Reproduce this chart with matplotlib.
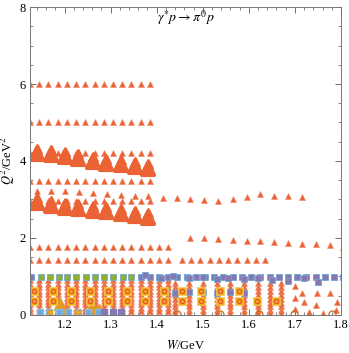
import numpy as np
import matplotlib
matplotlib.use("Agg")
import matplotlib.pyplot as plt
from matplotlib.ticker import MultipleLocator
from matplotlib.markers import MarkerStyle

plt.rcParams['font.family'] = ['Liberation Serif', 'DejaVu Serif']
plt.rcParams['mathtext.fontset'] = 'stix'

# ---- data ----
# fine W grid of the low-W block (step ~0.02)
W_fine = [1.125, 1.145, 1.165, 1.185, 1.205, 1.225, 1.245, 1.265, 1.285, 1.305,
          1.325, 1.345, 1.365, 1.385]
W_fine_ext = W_fine + [1.405, 1.425]
W_fine_long = W_fine + [1.405, 1.425, 1.455, 1.475, 1.495, 1.515, 1.535, 1.555,
                        1.575, 1.595, 1.615, 1.635]
Q_rows_fine = [6.0, 5.0, 4.2, 3.47, 2.97]

# row around Q^2 ~ 3.2 (step ~0.03)
W_row32 = [1.141, 1.171, 1.200, 1.231, 1.262, 1.292, 1.322, 1.353, 1.382, 1.413,
           1.443, 1.473, 1.503, 1.534, 1.565, 1.595, 1.625, 1.655, 1.685, 1.716]
Q_row32 = [3.23, 3.22, 3.21, 3.20, 3.16, 3.13, 3.12, 3.10, 3.08, 3.04,
           3.03, 3.00, 2.99, 2.97, 3.01, 3.07, 3.13, 3.10, 3.09, 3.06]

# row around Q^2 ~ 2 at high W
W_row20 = [1.473, 1.503, 1.534, 1.565, 1.595, 1.625, 1.655, 1.685, 1.716, 1.746,
           1.776, 1.805]
Q_row20 = [2.01, 1.99, 1.97, 1.95, 1.93, 1.91, 1.90, 1.88, 1.85, 1.83, 1.82, 1.76]

# big blobs
W_blob = [1.141, 1.171, 1.200, 1.229, 1.262, 1.291, 1.323, 1.353, 1.382]
Q_blob1 = [4.18, 4.16, 4.10, 4.05, 3.98, 3.92, 3.90, 3.85, 3.78]
Q_blob2 = [2.90, 2.84, 2.79, 2.75, 2.71, 2.67, 2.62, 2.58, 2.53]

# dense low-Q region
Q_dense = [0.90, 0.81, 0.72, 0.63, 0.54, 0.45, 0.36, 0.27, 0.18, 0.09]
W_dense_right = [1.44, 1.47, 1.50, 1.53, 1.56, 1.59, 1.62, 1.645, 1.67]
Q_dense_right = [0.82, 0.72, 0.62, 0.52, 0.42, 0.32, 0.22, 0.12, 0.04]
W_sparse = [1.70, 1.70, 1.70, 1.716, 1.747, 1.776, 1.792, 1.72, 1.73, 1.76, 1.79, 1.745]
Q_sparse = [0.75, 0.45, 0.15, 0.56, 0.58, 0.56, 0.33, 0.34, 0.08, 0.05, 0.12, 0.25]

# squares at Q^2 ~ 1
W_sq1 = [1.128, 1.148, 1.168, 1.187, 1.206, 1.225, 1.247, 1.266, 1.286, 1.305,
         1.326, 1.345, 1.365, 1.385, 1.405, 1.425, 1.445, 1.465, 1.485, 1.505,
         1.525, 1.545, 1.565, 1.585, 1.605, 1.625, 1.645, 1.665, 1.685, 1.705,
         1.725, 1.745, 1.765, 1.785, 1.805]
Q_sq1 = [0.99] * len(W_sq1)
W_green = [1.148, 1.168, 1.187, 1.206, 1.225, 1.247, 1.266, 1.286, 1.305, 1.326, 1.345]
W_purp1 = [1.375, 1.41, 1.435, 1.47, 1.50, 1.53, 1.555, 1.59, 1.62, 1.65, 1.685,
           1.72, 1.75]
Q_purp1 = [1.03, 0.96, 1.00, 0.95, 0.98, 0.94, 0.97, 0.92, 0.96, 0.90, 0.88,
           0.95, 0.86]

# yellow squares
W_yel_hi = [1.133, 1.175, 1.215, 1.255, 1.295, 1.335, 1.375, 1.415, 1.455, 1.497,
            1.538, 1.579]
W_yel_lo = W_yel_hi + [1.618, 1.659]
Q_yel_hi = 0.62
Q_yel_lo = 0.36

# blue/purple squares at Q^2 ~ 0.6
W_bp6 = [1.42, 1.44, 1.47, 1.50, 1.53, 1.56, 1.59]
Q_bp6 = [0.62, 0.58, 0.60, 0.59, 0.57, 0.60, 0.56]

# bottom markers
W_bot_blue = [1.146, 1.166, 1.187, 1.208, 1.229, 1.251, 1.273]
W_bot_purp = [1.285, 1.305, 1.322]
W_bot_big = [1.19, 1.19, 1.26, 1.275]
Q_bot_big = [0.28, 0.15, 0.22, 0.12]
W_ring = [1.444, 1.538, 1.621, 1.697, 1.781]

tri_c = '#EB6235'
tri_e = '#F08A68'

fig = plt.figure(figsize=(3.49, 3.53), dpi=100)
ax = fig.add_axes([0.086, 0.108, 0.891, 0.872])

kw = dict(ls='none', marker='^', ms=5, mfc=tri_c, mec=tri_e, mew=0.4)
for q in Q_rows_fine:
    ax.plot(W_fine, [q] * len(W_fine), **kw)
ax.plot(W_fine_ext, [1.77] * len(W_fine_ext), **kw)
ax.plot(W_fine_long, [1.42] * len(W_fine_long), **kw)
ax.plot(W_row32, Q_row32, **kw)
ax.plot(W_row20, Q_row20, **kw)
for q in Q_dense:
    ax.plot(W_fine_ext, [q] * len(W_fine_ext), **kw)
for q in Q_dense_right:
    ax.plot(W_dense_right, [q] * len(W_dense_right), **kw)
ax.plot(W_sparse, Q_sparse, **kw)

# big blobs (rounded triangles, two stacked)
blob_m = MarkerStyle('^', joinstyle='round')
bkw = dict(ls='none', marker=blob_m, ms=8.5, mfc=tri_c, mec=tri_c, mew=3)
ax.plot(W_blob, Q_blob1, **bkw)
ax.plot(W_blob, Q_blob2, **bkw)
tkw = dict(ls='none', marker=blob_m, ms=6, mfc=tri_c, mec=tri_c, mew=2)
ax.plot(W_blob, [q + 0.13 for q in Q_blob1], **tkw)
ax.plot(W_blob, [q + 0.13 for q in Q_blob2], **tkw)

# bottom big orange
ax.plot(W_bot_big, Q_bot_big, ls='none', marker='^', ms=8, color='#E19C24')

# squares at Q ~ 1
skw = dict(ls='none', marker='s', ms=5, mfc='#8DBBE0', mec='#6FA8D6', mew=0.6)
ikw = dict(ls='none', marker='s', ms=3.2, color='#8778B3')
ax.plot(W_sq1, Q_sq1, **skw)
ax.plot(W_green, [0.99] * len(W_green), ls='none', marker='s', ms=3.2,
        color='#8FB032')
ax.plot(W_sq1[12:], Q_sq1[12:], **ikw)
ax.plot(W_sq1[:1], Q_sq1[:1], **ikw)
ax.plot(W_purp1, Q_purp1, **skw)
ax.plot(W_purp1, Q_purp1, **ikw)

# blue/purple at 0.6
ax.plot(W_bp6, Q_bp6, **skw)
ax.plot(W_bp6, Q_bp6, **ikw)

# yellow squares
ykw = dict(ls='none', marker='s', ms=6, mfc='#F2B21C', mec='#F7C95A', mew=0.5)
rkw = dict(ls='none', marker='o', ms=3, mfc='none', mec='#E8542A', mew=0.9)
ax.plot(W_yel_hi, [Q_yel_hi] * len(W_yel_hi), **ykw)
ax.plot(W_yel_hi, [Q_yel_hi] * len(W_yel_hi), **rkw)
ax.plot(W_yel_lo, [Q_yel_lo] * len(W_yel_lo), **ykw)
ax.plot(W_yel_lo, [Q_yel_lo] * len(W_yel_lo), **rkw)

# bottom squares
ax.plot(W_bot_blue, [0.07] * len(W_bot_blue), ls='none', marker='s', ms=5,
        mfc='#6FA8D6', mec='#8DBBE0')
ax.plot(W_bot_purp, [0.07] * len(W_bot_purp), ls='none', marker='s', ms=4,
        color='#8778B3')
ax.plot([1.168, 1.229], [0.07, 0.07], ls='none', marker='o', ms=3, mfc='#F2B21C',
        mec='#E19C24')
ax.plot(W_ring, [0.03] * len(W_ring), ls='none', marker='o', ms=5, mfc='none',
        mec='#C56E1A', mew=0.9)

ax.set_xlim(1.125, 1.8)
ax.set_ylim(0, 8)
ax.xaxis.set_major_locator(MultipleLocator(0.1))
ax.xaxis.set_minor_locator(MultipleLocator(0.02))
ax.yaxis.set_major_locator(MultipleLocator(2))
ax.yaxis.set_minor_locator(MultipleLocator(0.5))
ax.tick_params(which='both', direction='in', top=True, right=True,
               labelsize=9, color='#555555', pad=3)
ax.tick_params(which='major', length=4, width=0.6)
ax.tick_params(which='minor', length=2, width=0.5)
for s in ax.spines.values():
    s.set_color('#777777')
    s.set_linewidth(0.7)

ax.set_xlabel('$W$/GeV', fontsize=9, labelpad=6)
ax.set_ylabel('$Q^2$/GeV$^2$', fontsize=9, labelpad=2)
ax.text(0.5, 0.965, r'$\gamma^{*}p \rightarrow \pi^{0}p$', transform=ax.transAxes,
        ha='center', va='center', fontsize=10)

fig.savefig('out.png', dpi=100)
